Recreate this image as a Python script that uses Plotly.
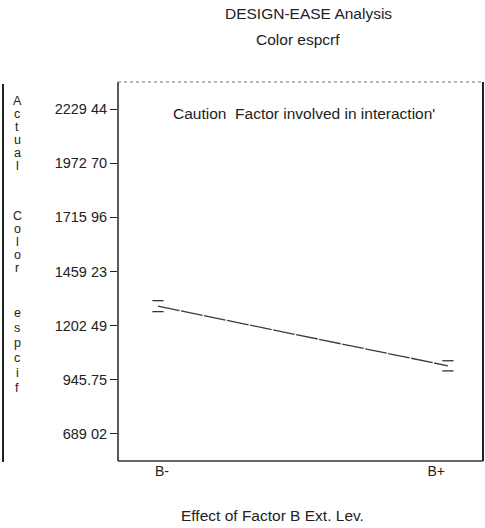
import plotly.graph_objects as go

# ---- data ----
levels = ["B-", "B+"]
level_pos = [0, 1]
means = [1295.0, 1012.0]
lsd_half = [26.0, 24.0]
y_ticks = [689.02, 945.75, 1202.49, 1459.23, 1715.96, 1972.70, 2229.44]
y_tick_text = ["689 02", "945.75", "1202 49", "1459 23", "1715 96", "1972 70", "2229 44"]
y_range = [560.65, 2357.81]
x_range = [-0.138, 1.121]

FONT = "Liberation Sans, Arial, sans-serif"
W, H = 485, 528
L, R, T, B = 118, 2, 82, 67
plot_w = W - L - R
plot_h = H - T - B


def px_x(x):
    return (x - L) / plot_w


def px_y(y):
    return (H - B - y) / plot_h


fig = go.Figure()

# mean line
fig.add_trace(go.Scatter(
    x=level_pos, y=means, mode="lines",
    line=dict(color="#3a3a3a", width=1.3, dash="22px,1.5px"),
    hoverinfo="skip", showlegend=False))

# LSD bar ends (short horizontal dashes)
upper = [m + h for m, h in zip(means, lsd_half)]
lower = [m - h for m, h in zip(means, lsd_half)]
fig.add_trace(go.Scatter(
    x=level_pos + level_pos, y=upper + lower, mode="markers",
    marker=dict(symbol="line-ew", size=8, line=dict(color="#333", width=1.3)),
    hoverinfo="skip", showlegend=False))

fig.update_xaxes(
    range=x_range, tickvals=level_pos,
    ticktext=["\u00a0\u00a0B-", "B+" + "\u00a0" * 6],
    ticks="", showgrid=False, zeroline=False, showline=False,
    tickfont=dict(family=FONT, size=14, color="#222"))
fig.update_yaxes(
    range=y_range, tickvals=y_ticks, ticktext=y_tick_text,
    ticks="outside", ticklen=7, tickwidth=1, tickcolor="#222",
    showgrid=False, zeroline=False, showline=False,
    tickfont=dict(family=FONT, size=14.5, color="#222"))

# frame
fig.add_shape(type="line", xref="paper", yref="paper", x0=0, x1=0, y0=0, y1=1,
              line=dict(color="#222", width=1.5))
fig.add_shape(type="line", xref="paper", yref="paper", x0=0, x1=1, y0=0, y1=0,
              line=dict(color="#333", width=1.5))
fig.add_shape(type="line", xref="paper", yref="paper", x0=1, x1=1, y0=0, y1=1,
              line=dict(color="#222", width=2))
fig.add_shape(type="line", xref="paper", yref="paper", x0=0, x1=1, y0=1, y1=1,
              line=dict(color="#777", width=1.2, dash="dot"))
# scan edge line at far left
fig.add_shape(type="line", xref="paper", yref="paper",
              x0=px_x(3), x1=px_x(3), y0=px_y(462), y1=px_y(84),
              line=dict(color="#222", width=2))


def ann(text, x, y, size):
    return dict(text=text, xref="paper", yref="paper", x=px_x(x), y=px_y(y),
                xanchor="center", yanchor="middle", showarrow=False,
                font=dict(family=FONT, size=size, color="#222"))


annotations = [
    ann("DESIGN-EASE Analysis", 308, 14, 15.5),
    ann("Color espcrf", 298, 39, 15.5),
    ann("Caution  Factor involved in interaction'", 304, 113, 15.5),
    ann("Effect of Factor B Ext. Lev.", 272, 515, 15.5),
]

# vertical stacked y-axis title
groups = [("Actual", 101, 13.0), ("Color", 216, 13.0), ("espcif", 313, 15.0)]
for word, start, step in groups:
    for i, ch in enumerate(word):
        annotations.append(ann(ch, 17, start + i * step, 12.5))

fig.update_layout(
    width=W, height=H,
    margin=dict(l=L, r=R, t=T, b=B),
    paper_bgcolor="white", plot_bgcolor="white",
    annotations=annotations, showlegend=False)

fig.write_html("out.html", config={"displayModeBar": False},
               post_script="document.body.style.margin='0';")
